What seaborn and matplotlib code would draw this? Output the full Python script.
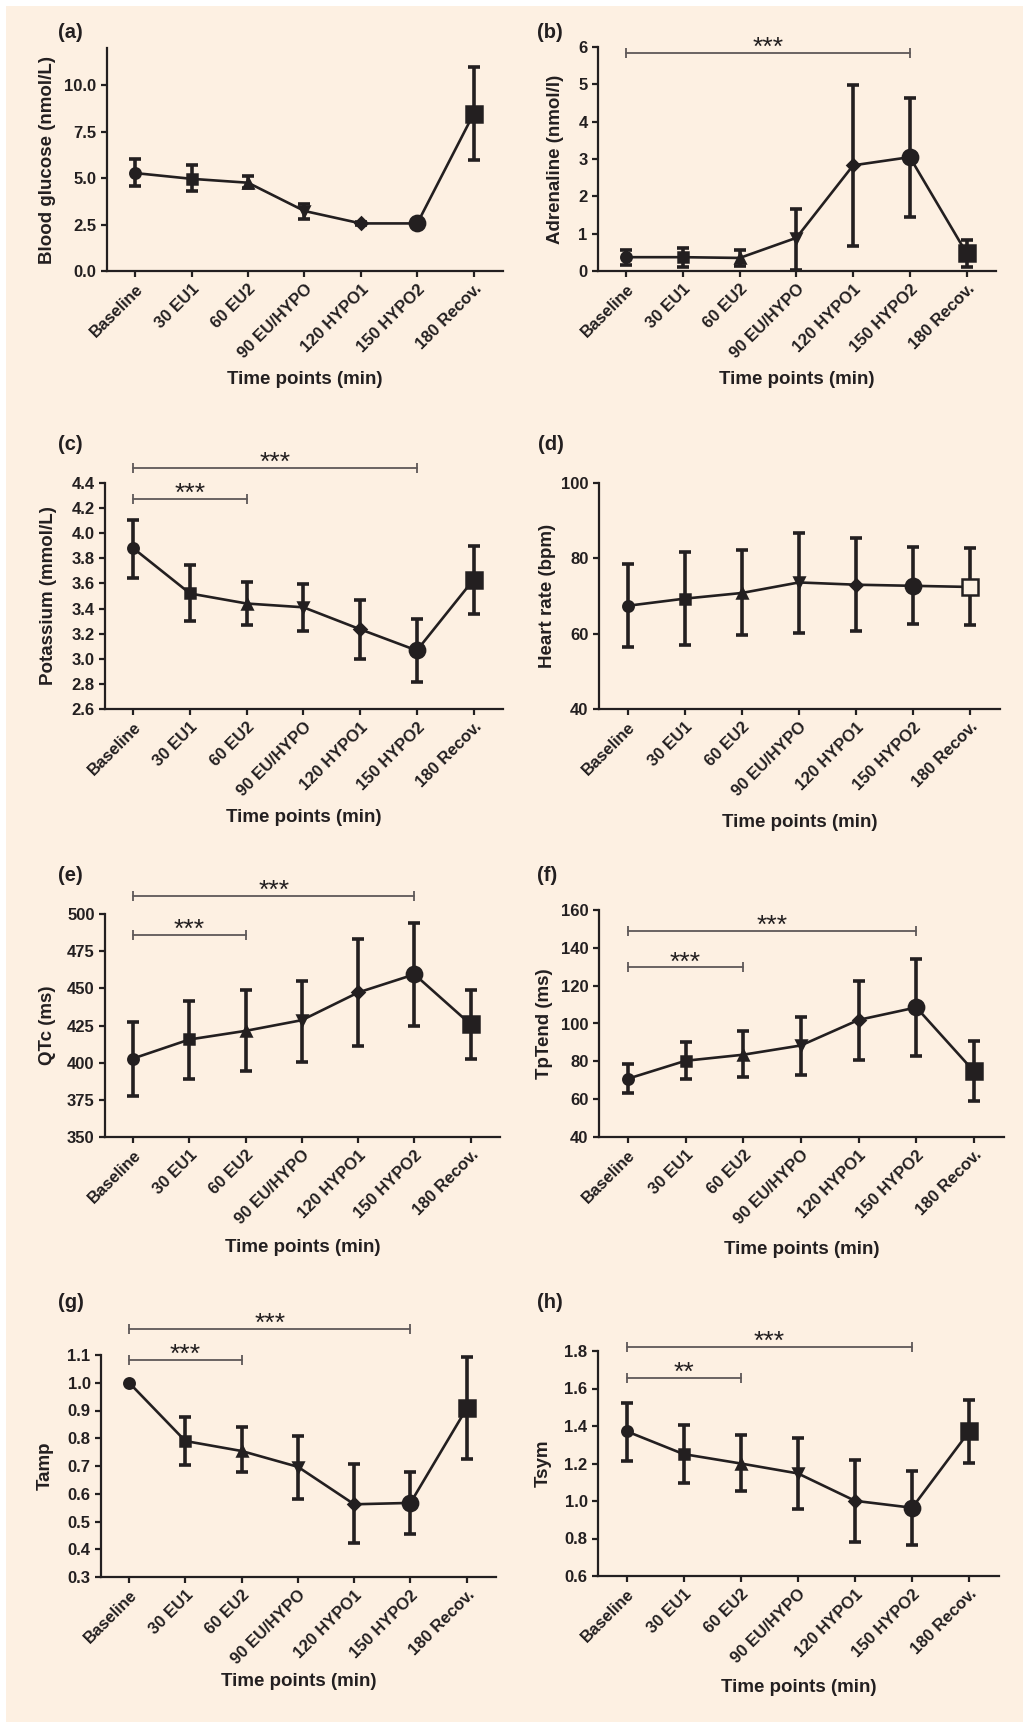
import numpy as np
import matplotlib
matplotlib.use("Agg")
import matplotlib.pyplot as plt
from matplotlib.patches import Rectangle
from matplotlib.ticker import FormatStrFormatter
from matplotlib.transforms import blended_transform_factory
import seaborn as sns

# ---- data ----
time_labels = ["Baseline", "30 EU1", "60 EU2", "90 EU/HYPO", "120 HYPO1", "150 HYPO2", "180 Recov."]

glucose_mean = [5.27, 4.96, 4.75, 3.23, 2.56, 2.56, 8.46]
glucose_lo = [4.55, 4.28, 4.48, 2.78, 2.48, 2.56, 5.95]
glucose_hi = [6.04, 5.72, 5.10, 3.62, 2.66, 2.56, 10.97]

adrenaline_mean = [0.37, 0.37, 0.35, 0.89, 2.83, 3.05, 0.48]
adrenaline_lo = [0.15, 0.11, 0.13, 0.04, 0.66, 1.45, 0.11]
adrenaline_hi = [0.57, 0.62, 0.55, 1.65, 4.97, 4.64, 0.84]

potassium_mean = [3.88, 3.52, 3.44, 3.41, 3.235, 3.066, 3.63]
potassium_lo = [3.645, 3.30, 3.27, 3.22, 2.997, 2.814, 3.36]
potassium_hi = [4.108, 3.75, 3.61, 3.595, 3.47, 3.317, 3.90]

hr_mean = [67.4, 69.3, 70.8, 73.6, 73.0, 72.7, 72.4]
hr_lo = [56.4, 57.1, 59.6, 60.2, 60.8, 62.65, 62.2]
hr_hi = [78.5, 81.7, 82.3, 86.7, 85.4, 83.0, 82.7]

qtc_mean = [402.8, 415.6, 421.4, 428.6, 447.2, 459.4, 425.7]
qtc_lo = [377.6, 389.1, 394.5, 400.5, 411.5, 424.8, 402.3]
qtc_hi = [427.5, 441.6, 448.8, 454.6, 483.2, 493.7, 448.8]

tptend_mean = [70.8, 80.3, 83.5, 88.4, 101.9, 108.5, 74.7]
tptend_lo = [63.2, 70.6, 71.5, 72.9, 80.8, 82.6, 58.8]
tptend_hi = [78.7, 90.0, 95.8, 103.2, 122.7, 134.3, 90.5]

tamp_mean = [1.0, 0.79, 0.754, 0.697, 0.562, 0.567, 0.908]
tamp_lo = [1.0, 0.703, 0.677, 0.58, 0.423, 0.454, 0.727]
tamp_hi = [1.0, 0.876, 0.839, 0.809, 0.707, 0.679, 1.092]

tsym_mean = [1.372, 1.25, 1.2, 1.147, 1.001, 0.964, 1.372]
tsym_lo = [1.214, 1.097, 1.054, 0.957, 0.779, 0.765, 1.205]
tsym_hi = [1.525, 1.404, 1.351, 1.337, 1.221, 1.161, 1.537]

glucose_ticks = [0, 2.5, 5, 7.5, 10]
adrenaline_ticks = [0, 1, 2, 3, 4, 5, 6]
potassium_ticks = [2.6, 2.8, 3.0, 3.2, 3.4, 3.6, 3.8, 4.0, 4.2, 4.4]
hr_ticks = [40, 60, 80, 100]
qtc_ticks = [350, 375, 400, 425, 450, 475, 500]
tptend_ticks = [40, 60, 80, 100, 120, 140, 160]
tamp_ticks = [0.3, 0.4, 0.5, 0.6, 0.7, 0.8, 0.9, 1.0, 1.1]
tsym_ticks = [0.6, 0.8, 1.0, 1.2, 1.4, 1.6, 1.8]

# significance brackets: (from index, to index, level, stars)
adrenaline_sig = [(0, 5, 5.84, "***")]
potassium_sig = [(0, 5, 4.52, "***"), (0, 2, 4.275, "***")]
qtc_sig = [(0, 5, 512.4, "***"), (0, 2, 485.9, "***")]
tptend_sig = [(0, 5, 149.1, "***"), (0, 2, 129.7, "***")]
tamp_sig = [(0, 5, 1.194, "***"), (0, 2, 1.082, "***")]
tsym_sig = [(0, 5, 1.821, "***"), (0, 2, 1.658, "**")]

# ---- style ----
W, H = 1023, 1722
INK = "#231f20"
BG = "#fdf0e2"
SIG = "#5e5858"

sns.set_theme(style="ticks")
plt.rcParams["font.family"] = ["Liberation Sans", "DejaVu Sans"]
plt.rcParams["font.weight"] = "bold"
plt.rcParams["text.color"] = INK
plt.rcParams["axes.labelcolor"] = INK
plt.rcParams["xtick.color"] = INK
plt.rcParams["ytick.color"] = INK
plt.rcParams["axes.edgecolor"] = INK

markers = ["o", "s", "^", "v", "D", "o", "s"]
msizes = [7.5, 7.5, 7.5, 7.5, 6, 11, 11]

fig = plt.figure(figsize=(W / 100, H / 100), dpi=100, facecolor="white")
fig.patches.append(Rectangle((6 / W, 0), 1, 1 - 6 / H, transform=fig.transFigure,
                             facecolor=BG, edgecolor="none", zorder=-10))


def px_rect(l, t, r, b):
    return [l / W, 1 - b / H, (r - l) / W, (b - t) / H]


# (tag, ylabel, mean, lo, hi, ticks, ylim, fmt, sig, rect, ylabel x, xlabel y, tag xy, open markers)
panels = [
    ("(a)", "Blood glucose (nmol/L)", glucose_mean, glucose_lo, glucose_hi, glucose_ticks,
     (0, 12), "%.1f", [], (107, 48, 503, 271), 47, 380, (58, 33), []),
    ("(b)", "Adrenaline (nmol/l)", adrenaline_mean, adrenaline_lo, adrenaline_hi, adrenaline_ticks,
     (0, 6), "%d", adrenaline_sig, (598, 47, 996, 271), 555, 380, (537, 33), []),
    ("(c)", "Potassium (mmol/L)", potassium_mean, potassium_lo, potassium_hi, potassium_ticks,
     (2.6, 4.4), "%.1f", potassium_sig, (105, 483, 503, 709), 48, 818, (58, 445), []),
    ("(d)", "Heart rate (bpm)", hr_mean, hr_lo, hr_hi, hr_ticks,
     (40, 100), "%d", [], (599, 483, 1000, 709), 547, 823, (538, 445), [6]),
    ("(e)", "QTc (ms)", qtc_mean, qtc_lo, qtc_hi, qtc_ticks,
     (350, 500), "%d", qtc_sig, (105, 914, 500, 1137), 47, 1248, (58, 875), []),
    ("(f)", "TpTend (ms)", tptend_mean, tptend_lo, tptend_hi, tptend_ticks,
     (40, 160), "%d", tptend_sig, (599, 910, 1004, 1137), 544, 1250, (537, 875), []),
    ("(g)", "Tamp", tamp_mean, tamp_lo, tamp_hi, tamp_ticks,
     (0.3, 1.1), "%.1f", tamp_sig, (101, 1355, 496, 1577), 45, 1682, (58, 1303), []),
    ("(h)", "Tsym", tsym_mean, tsym_lo, tsym_hi, tsym_ticks,
     (0.6, 1.8), "%.1f", tsym_sig, (598, 1351, 999, 1576), 543, 1687, (537, 1303), []),
]

x = np.arange(len(time_labels))

for (tag, ylab, mean, lo, hi, ticks, ylim, fmt, sig, rect,
     ylab_x, xlab_y, tag_xy, open_idx) in panels:
    ax = fig.add_axes(px_rect(*rect))
    ax.set_facecolor("none")
    mean = np.asarray(mean)
    lo = np.asarray(lo)
    hi = np.asarray(hi)

    err = hi > lo
    ax.errorbar(x[err], mean[err], yerr=[mean[err] - lo[err], hi[err] - mean[err]],
                fmt="none", ecolor=INK, elinewidth=2.6, capsize=4, capthick=2.6,
                zorder=2, clip_on=False)
    sns.lineplot(x=x, y=mean, ax=ax, color=INK, lw=1.9, zorder=3)
    for i in range(len(x)):
        face = BG if i in open_idx else INK
        ax.plot(x[i], mean[i], marker=markers[i], ms=msizes[i], mfc=face, mec=INK,
                mew=1.8, ls="none", zorder=4, clip_on=False)

    for i0, i1, level, stars in sig:
        ax.plot([x[i0], x[i1]], [level, level], color=SIG, lw=1.3, marker="|",
                ms=7.5, mew=1.3, clip_on=False, zorder=3)
        ax.annotate(stars, xy=((x[i0] + x[i1]) / 2, level), xytext=(0, -1.5),
                    textcoords="offset points", ha="center", va="baseline",
                    fontsize=19, fontweight="normal", color=INK, annotation_clip=False)

    ax.set_xlim(-0.5, 6.52)
    ax.set_ylim(*ylim)
    ax.set_yticks(ticks)
    ax.yaxis.set_major_formatter(FormatStrFormatter(fmt))
    ax.set_xticks(x)
    ax.set_xticklabels(time_labels, rotation=45, ha="right", rotation_mode="anchor")
    ax.tick_params(axis="both", direction="out", length=4.5, width=1.6, labelsize=12, pad=3)
    for lab in ax.get_xticklabels() + ax.get_yticklabels():
        lab.set_fontweight("bold")

    sns.despine(ax=ax)
    ax.spines["left"].set_linewidth(1.6)
    ax.spines["bottom"].set_linewidth(1.6)

    ax.set_ylabel(ylab, fontsize=13.5, fontweight="bold")
    ax.yaxis.set_label_coords((ylab_x + 9) / W, 0.5,
                              transform=blended_transform_factory(fig.transFigure, ax.transAxes))
    ax.set_xlabel("Time points (min)", fontsize=13.5, fontweight="bold")
    ax.xaxis.label.set_va("center")
    ax.xaxis.set_label_coords(0.5, 1 - xlab_y / H,
                              transform=blended_transform_factory(ax.transAxes, fig.transFigure))

    fig.text(tag_xy[0] / W, 1 - tag_xy[1] / H, tag, fontsize=14.5, fontweight="bold",
             ha="left", va="center", color=INK)

fig.savefig("out.png", dpi=100, facecolor=fig.get_facecolor())
